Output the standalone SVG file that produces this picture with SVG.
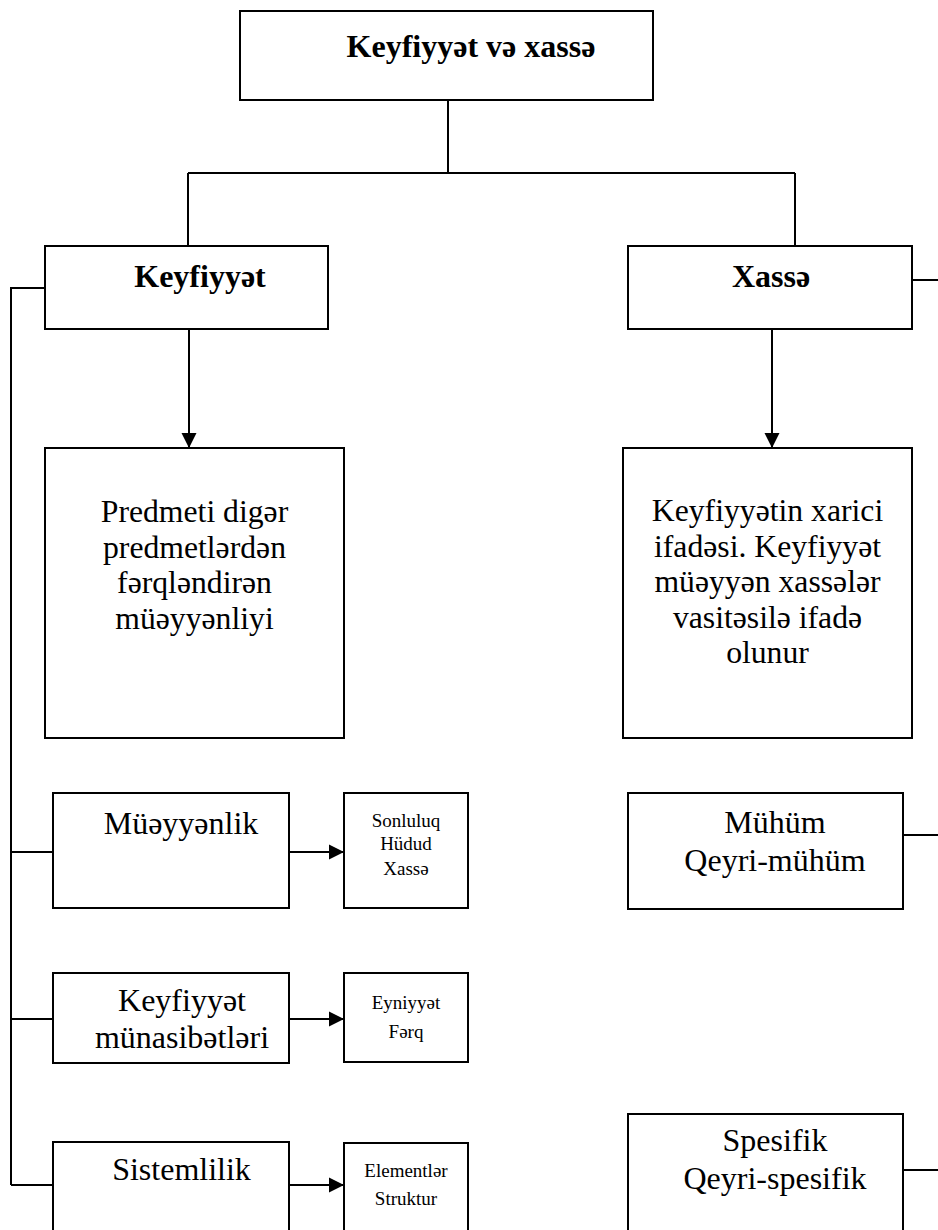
<svg xmlns="http://www.w3.org/2000/svg" width="938" height="1230" viewBox="0 0 938 1230">
<style>
.box{fill:#fff;stroke:#000;stroke-width:2}
.ln{fill:none;stroke:#000;stroke-width:2}
text{font-family:"Liberation Serif","Times New Roman",serif;fill:#000;text-anchor:middle}
.b{font-weight:bold;font-size:32px}
.m{font-size:31.7px}
.l{font-size:32px}
.s{font-size:19px}
</style>
<defs>
<marker id="ah" markerUnits="userSpaceOnUse" markerWidth="16" markerHeight="16" viewBox="0 0 16 16" refX="15" refY="8" orient="auto">
<path d="M0,0.5 L15,8 L0,15.5 Z" fill="#000"/>
</marker>
</defs>
<rect width="938" height="1230" fill="#fff"/>
<g id="connectors">
<path class="ln" d="M448,100 V173 M188,173 H795 M188,173 V246 M795,173 V246"/>
<path class="ln" d="M45,288 H11 V1185 M11,852 H53 M11,1019 H53 M11,1185 H53"/>
<path class="ln" d="M912,280 H938 M903,835 H938 M903,1170 H938"/>
<path class="ln" d="M189,329 V448" marker-end="url(#ah)"/>
<path class="ln" d="M772,329 V448" marker-end="url(#ah)"/>
<path class="ln" d="M289,852 H344" marker-end="url(#ah)"/>
<path class="ln" d="M289,1019 H344" marker-end="url(#ah)"/>
<path class="ln" d="M289,1185 H344" marker-end="url(#ah)"/>
</g>
<g id="n-root">
<rect class="box" x="240" y="11" width="413" height="89"/>
<text class="b" x="471" y="57">Keyfiyyət və xassə</text>
</g>
<g id="n-keyfiyyet">
<rect class="box" x="45" y="246" width="283" height="83"/>
<text class="b" x="200" y="287">Keyfiyyət</text>
</g>
<g id="n-xasse">
<rect class="box" x="628" y="246" width="284" height="83"/>
<text class="b" x="771" y="287">Xassə</text>
</g>
<g id="n-predmeti">
<rect class="box" x="45" y="448" width="299" height="290"/>
<text class="m" x="194.5" y="522">Predmeti digər</text>
<text class="m" x="194.5" y="557.5">predmetlərdən</text>
<text class="m" x="194.5" y="593">fərqləndirən</text>
<text class="m" x="194.5" y="628.5">müəyyənliyi</text>
</g>
<g id="n-xarici">
<rect class="box" x="623" y="448" width="289" height="290"/>
<text class="m" x="767.5" y="521">Keyfiyyətin xarici</text>
<text class="m" x="767.5" y="557">ifadəsi. Keyfiyyət</text>
<text class="m" x="767.5" y="592">müəyyən xassələr</text>
<text class="m" x="767.5" y="628">vasitəsilə ifadə</text>
<text class="m" x="767.5" y="663">olunur</text>
</g>
<g id="n-mueyyenlik">
<rect class="box" x="53" y="793" width="236" height="115"/>
<text class="l" x="181" y="834">Müəyyənlik</text>
</g>
<g id="n-sonluluq">
<rect class="box" x="344" y="793" width="124" height="115"/>
<text class="s" x="406" y="827">Sonluluq</text>
<text class="s" x="406" y="850">Hüdud</text>
<text class="s" x="406" y="875">Xassə</text>
</g>
<g id="n-munasibet">
<rect class="box" x="53" y="973" width="236" height="90"/>
<text class="l" x="182" y="1011">Keyfiyyət</text>
<text class="l" x="182" y="1048">münasibətləri</text>
</g>
<g id="n-eyniyyet">
<rect class="box" x="344" y="973" width="124" height="89"/>
<text class="s" x="406" y="1009">Eyniyyət</text>
<text class="s" x="406" y="1038">Fərq</text>
</g>
<g id="n-sistemlilik">
<rect class="box" x="53" y="1142" width="236" height="100"/>
<text class="l" x="181.5" y="1180">Sistemlilik</text>
</g>
<g id="n-elementler">
<rect class="box" x="344" y="1143" width="124" height="100"/>
<text class="s" x="406" y="1177">Elementlər</text>
<text class="s" x="406" y="1205">Struktur</text>
</g>
<g id="n-muhum">
<rect class="box" x="628" y="793" width="275" height="116"/>
<text class="l" x="775" y="833">Mühüm</text>
<text class="l" x="775" y="871">Qeyri-mühüm</text>
</g>
<g id="n-spesifik">
<rect class="box" x="628" y="1114" width="275" height="130"/>
<text class="l" x="775" y="1151">Spesifik</text>
<text class="l" x="775" y="1189">Qeyri-spesifik</text>
</g>
</svg>
